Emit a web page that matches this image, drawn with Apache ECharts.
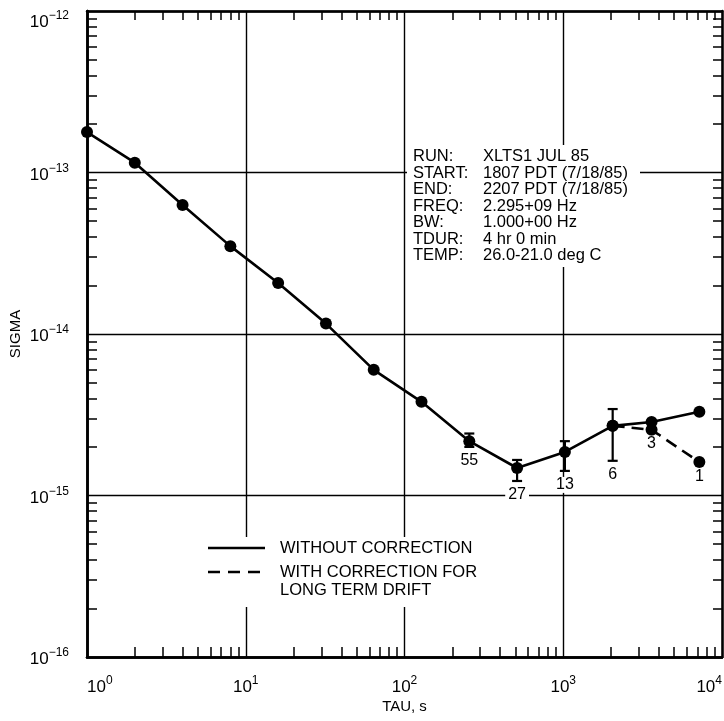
<!DOCTYPE html>
<html>
<head>
<meta charset="utf-8">
<script src="https://cdn.jsdelivr.net/npm/echarts@6/dist/echarts.min.js"></script>
<style>
  html, body { margin: 0; padding: 0; background: #fff; }
  #chart { width: 724px; height: 721px; }
</style>
</head>
<body>
<div id="chart"></div>
<script>
// Allan deviation versus averaging time
const tau = [1, 2, 4, 8, 16, 32, 64, 128, 256, 512, 1024, 2048, 3600, 7200];
const sigma = [1.78e-13, 1.15e-13, 6.3e-14, 3.5e-14, 2.07e-14, 1.16e-14, 6.0e-15,
               3.8e-15, 2.17e-15, 1.48e-15, 1.86e-15, 2.7e-15, 2.85e-15, 3.3e-15];

// values after removing long term drift
const tauCorrected = [2048, 3600, 7200];
const sigmaCorrected = [2.7e-15, 2.55e-15, 1.61e-15];

// error bars
const barTau = [256, 512, 1024, 2048];
const barLow = [2.0e-15, 1.23e-15, 1.42e-15, 1.64e-15];
const barHigh = [2.42e-15, 1.66e-15, 2.17e-15, 3.43e-15];

// number of samples written under the points
const countTau = [256, 512, 1024, 2048, 3600, 7200];
const countAnchor = [2.0e-15, 1.23e-15, 1.42e-15, 1.64e-15, 2.55e-15, 1.61e-15];
const counts = ['55', '27', '13', '6', '3', '1'];

// axis decades and minor tick multipliers
const xDecades = [0, 1, 2, 3];
const yDecades = [-16, -15, -14, -13];
const minorSteps = [2, 3, 4, 5, 6, 7, 8, 9];

const infoLabels = ['RUN:', 'START:', 'END:', 'FREQ:', 'BW:', 'TDUR:', 'TEMP:'];
const infoValues = ['XLTS1 JUL 85', '1807 PDT (7/18/85)', '2207 PDT (7/18/85)',
                    '2.295+09 Hz', '1.000+00 Hz', '4 hr 0 min', '26.0-21.0 deg C'];
const legendText = ['WITHOUT CORRECTION', 'WITH CORRECTION FOR', 'LONG TERM DRIFT'];

const FONT = '"Liberation Sans", Arial, Helvetica, sans-serif';
const INK = '#000';

const minorX = [];
xDecades.forEach(d => minorSteps.forEach(k => minorX.push(d + Math.log10(k))));
const minorY = [];
yDecades.forEach(d => minorSteps.forEach(k => minorY.push(d + Math.log10(k))));

// "10" followed by a raised exponent; the top label of the y axis sits a bit lower
function powLabel(v) {
  const e = Math.round(Math.log10(v));
  const s = e < 0 ? '\u2212' + (-e) : String(e);
  return e === -12 ? '{bt|10}{st|' + s + '}' : '{b|10}{s|' + s + '}';
}
const powRich = {
  b: { fontFamily: FONT, fontSize: 17, color: INK, verticalAlign: 'bottom', lineHeight: 22 },
  s: { fontFamily: FONT, fontSize: 12, color: INK, verticalAlign: 'bottom', lineHeight: 22, padding: [0, 0, 9, 0] },
  bt: { fontFamily: FONT, fontSize: 17, color: INK, verticalAlign: 'bottom', lineHeight: 40 },
  st: { fontFamily: FONT, fontSize: 12, color: INK, verticalAlign: 'bottom', lineHeight: 40, padding: [0, 0, 9, 0] }
};

// helper axes in log10 space that only carry the minor ticks and the frame
function minorAxis(pos, min, max, vals, len) {
  return {
    type: 'value', position: pos, min: min, max: max,
    axisLine: { show: true, onZero: false, lineStyle: { color: INK, width: 2.5 } },
    axisTick: { show: true, inside: true, length: len, customValues: vals,
                lineStyle: { color: INK, width: 1.5 } },
    axisLabel: { show: false },
    splitLine: { show: false }
  };
}

const chart = echarts.init(document.getElementById('chart'), null, { renderer: 'canvas' });

const info = [];
infoLabels.forEach((t, i) => {
  info.push({ type: 'text', left: 413, top: 148 + i * 16.5, z: 5,
    style: { text: t, font: '16.5px ' + FONT, fill: INK } });
  info.push({ type: 'text', left: 483, top: 148 + i * 16.5, z: 5,
    style: { text: infoValues[i], font: '16.5px ' + FONT, fill: INK } });
});

chart.setOption({
  backgroundColor: '#fff',
  animation: false,
  grid: { left: 87, right: 2, top: 11, bottom: 64, containLabel: false, outerBoundsMode: 'none' },
  xAxis: [
    {
      type: 'log', logBase: 10, min: 1, max: 10000, position: 'bottom',
      name: 'TAU, s', nameLocation: 'middle', nameGap: 42, nameMoveOverlap: false,
      nameTextStyle: { fontFamily: FONT, fontSize: 15, color: INK },
      axisLine: { show: true, onZero: false, lineStyle: { color: INK, width: 2.5 } },
      axisTick: { show: false },
      axisLabel: { formatter: powLabel, rich: powRich, margin: 17,
                   alignMinLabel: 'left', alignMaxLabel: 'right' },
      splitLine: { show: true, lineStyle: { color: INK, width: 1.4 } }
    },
    minorAxis('bottom', 0, 4, minorX, 10),
    minorAxis('top', 0, 4, minorX, 9)
  ],
  yAxis: [
    {
      type: 'log', logBase: 10, min: 1e-16, max: 1e-12, position: 'left',
      name: 'SIGMA', nameLocation: 'middle', nameGap: 64, nameRotate: 90, nameMoveOverlap: false,
      nameTextStyle: { fontFamily: FONT, fontSize: 15, color: INK },
      axisLine: { show: true, onZero: false, lineStyle: { color: INK, width: 2.5 } },
      axisTick: { show: false },
      axisLabel: { formatter: powLabel, rich: powRich, margin: 18 },
      splitLine: { show: true, lineStyle: { color: INK, width: 1.4 } }
    },
    minorAxis('left', -16, -12, minorY, 10),
    minorAxis('right', -16, -12, minorY, 9)
  ],
  graphic: [
    { type: 'rect', left: 407, top: 145, z: 1, silent: true,
      shape: { width: 233, height: 122 }, style: { fill: '#fff' } },
    ...info,
    { type: 'rect', left: 200, top: 537, z: 1, silent: true,
      shape: { width: 290, height: 70 }, style: { fill: '#fff' } },
    { type: 'line', z: 5, shape: { x1: 208, y1: 548, x2: 265, y2: 548 },
      style: { stroke: INK, lineWidth: 2.5 } },
    { type: 'line', z: 5, shape: { x1: 208, y1: 572, x2: 265, y2: 572 },
      style: { stroke: INK, lineWidth: 2.5, lineDash: [12, 8] } },
    { type: 'text', left: 280, top: 540, z: 5,
      style: { text: legendText[0], font: '16.5px ' + FONT, fill: INK } },
    { type: 'text', left: 280, top: 564, z: 5,
      style: { text: legendText[1], font: '16.5px ' + FONT, fill: INK } },
    { type: 'text', left: 280, top: 582, z: 5,
      style: { text: legendText[2], font: '16.5px ' + FONT, fill: INK } }
  ],
  series: [
    {
      name: 'error', type: 'custom', xAxisIndex: 0, yAxisIndex: 0, z: 3,
      encode: { x: 0, y: [1, 2] },
      data: barTau.map((t, i) => [t, barLow[i], barHigh[i]]),
      renderItem: function (params, api) {
        const lo = api.coord([api.value(0), api.value(1)]);
        const hi = api.coord([api.value(0), api.value(2)]);
        const w = 5;
        const st = { stroke: INK, lineWidth: 2.2 };
        return { type: 'group', children: [
          { type: 'line', shape: { x1: lo[0], y1: lo[1], x2: hi[0], y2: hi[1] }, style: st },
          { type: 'line', shape: { x1: lo[0] - w, y1: lo[1], x2: lo[0] + w, y2: lo[1] }, style: st },
          { type: 'line', shape: { x1: hi[0] - w, y1: hi[1], x2: hi[0] + w, y2: hi[1] }, style: st }
        ] };
      }
    },
    {
      name: 'WITHOUT CORRECTION', type: 'line', xAxisIndex: 0, yAxisIndex: 0, z: 4,
      data: tau.map((t, i) => [t, sigma[i]]),
      symbol: 'circle', symbolSize: 12,
      itemStyle: { color: INK },
      lineStyle: { color: INK, width: 2.6 }
    },
    {
      name: 'WITH CORRECTION FOR LONG TERM DRIFT', type: 'line', xAxisIndex: 0, yAxisIndex: 0, z: 4,
      data: tauCorrected.map((t, i) => [t, sigmaCorrected[i]]),
      symbol: 'circle', symbolSize: 12,
      itemStyle: { color: INK },
      lineStyle: { color: INK, width: 2.6, type: [12, 7] }
    },
    {
      name: 'counts', type: 'scatter', xAxisIndex: 0, yAxisIndex: 0, z: 5,
      data: countTau.map((t, i) => [t, countAnchor[i], counts[i]]),
      symbolSize: 0,
      itemStyle: { opacity: 1, color: INK },
      label: {
        show: true, position: 'bottom', distance: 6, opacity: 1,
        formatter: p => p.value[2],
        fontFamily: FONT, fontSize: 16, color: INK,
        backgroundColor: '#fff', padding: [0, 3, 0, 3]
      }
    }
  ]
});
</script>
</body>
</html>
